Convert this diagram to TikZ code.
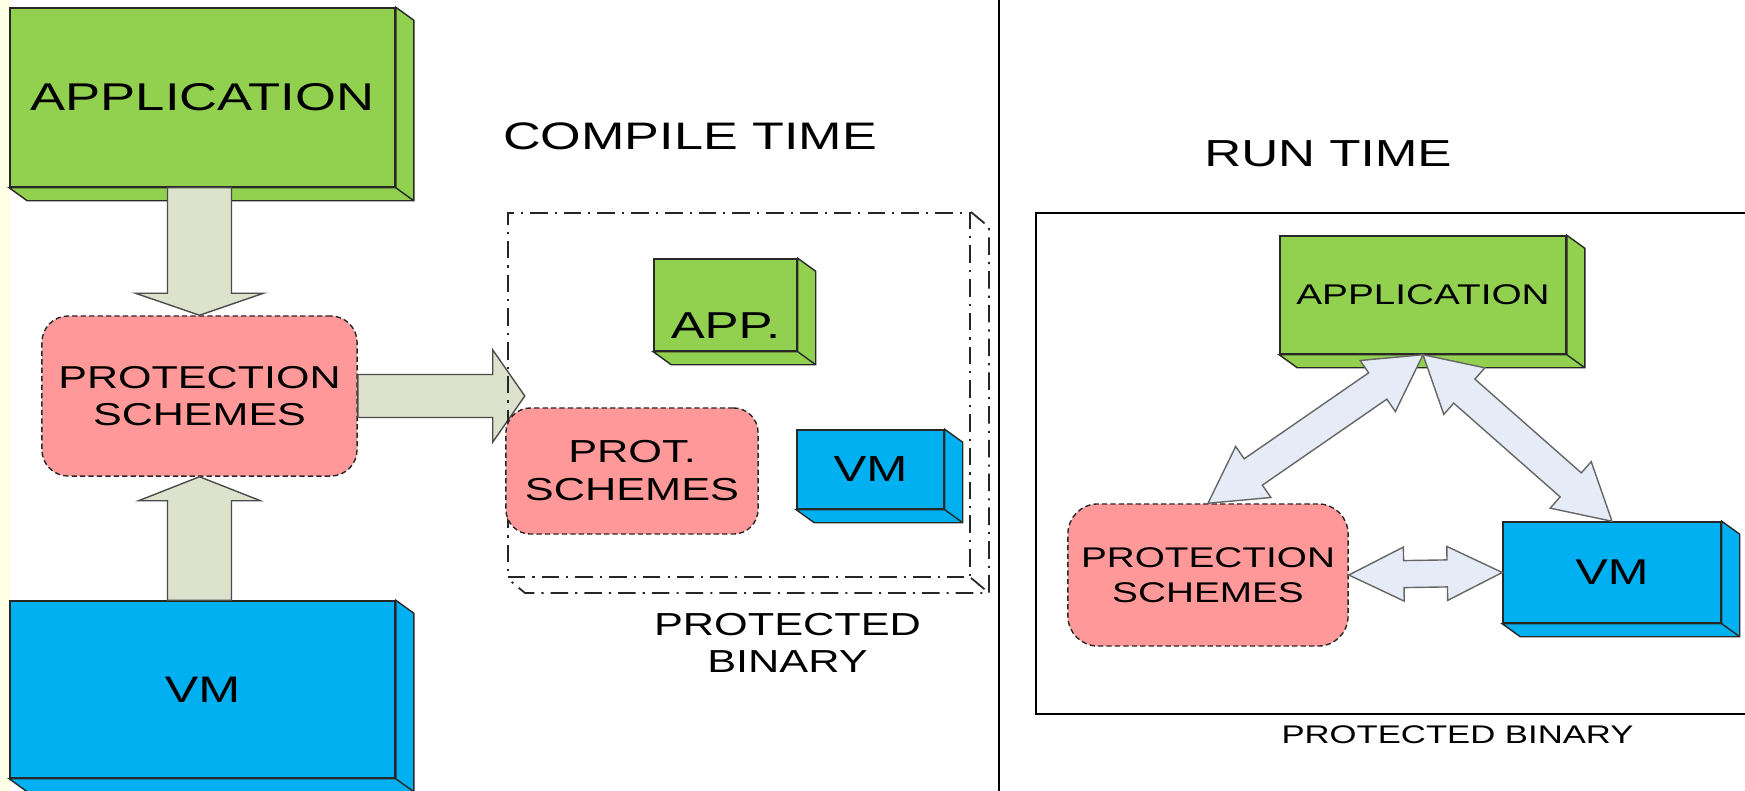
\documentclass[tikz,border=0pt]{standalone}
\usepackage{fontspec}
\setmainfont{Liberation Sans}[FakeStretch=1.36]
\usetikzlibrary{calc,positioning}

\definecolor{appgreen}{RGB}{146,208,80}
\definecolor{vmblue}{RGB}{0,176,240}
\definecolor{protpink}{RGB}{255,153,153}
\definecolor{feedfill}{RGB}{221,226,204}
\definecolor{linkfill}{RGB}{230,236,247}
\definecolor{edgegray}{RGB}{40,40,40}
\definecolor{stripyellow}{RGB}{255,255,230}

% block arrow: style, tail, tip, shaft half width, head half width, head length
\newcommand\singlearrow[6]{%
  \coordinate (ah) at ($(#3)!#6!(#2)$);
  \draw[#1] ($(#2)!#4!90:(#3)$) -- ($(ah)!#4!90:(#3)$) -- ($(ah)!#5!90:(#3)$) -- (#3)
    -- ($(ah)!#5!-90:(#3)$) -- ($(ah)!#4!-90:(#3)$) -- ($(#2)!#4!-90:(#3)$) -- cycle;
}
% same with a head at both ends
\newcommand\doublearrow[6]{%
  \coordinate (ha) at ($(#2)!#6!(#3)$);
  \coordinate (hb) at ($(#3)!#6!(#2)$);
  \draw[#1] (#2) -- ($(ha)!#5!90:(#3)$) -- ($(ha)!#4!90:(#3)$)
    -- ($(hb)!#4!-90:(#2)$) -- ($(hb)!#5!-90:(#2)$) -- (#3)
    -- ($(hb)!#5!90:(#2)$) -- ($(hb)!#4!90:(#2)$)
    -- ($(ha)!#4!-90:(#3)$) -- ($(ha)!#5!-90:(#3)$) -- cycle;
}

\begin{document}
\begin{tikzpicture}[x=0.01cm, y=-0.01cm,
    box/.style={draw=edgegray, line width=0.4pt, inner sep=0pt, align=center},
    cube/.style={box, fill=#1},
    scheme/.style={box, fill=protpink, rounded corners=#1, dash pattern=on 1.5pt off 0.9pt},
    slab/.style={draw=edgegray, line width=0.4pt, fill=#1},
    feed/.style={draw=black!70, line width=0.4pt, fill=feedfill},
    link/.style={draw=black!60, line width=0.4pt, fill=linkfill},
    bindash/.style={draw=black!85, line width=0.5pt, dash pattern=on 5pt off 2pt on 0.6pt off 2pt},
    caption/.style={inner sep=0pt, align=center}
  ]
  \useasboundingbox (0,0) rectangle (1745,791);
  \fill[white] (0,0) rectangle (1745,791);
  \fill[stripyellow] (0,0) rectangle (10,791);

  % divider and run time frame
  \coordinate (sepT) at (999,0);
  \coordinate (sepB) at (999,791);
  \draw[line width=0.5pt] (sepT) -- (sepB);
  \coordinate (frNE) at (1745,213);
  \coordinate (frSW) at (1036,714);
  \draw[line width=0.6pt] (frNE) -| (frSW) -- (frSW -| frNE);

  % compile time inputs
  \node[cube=appgreen, minimum width=3.85cm, minimum height=1.79cm, font=\fontsize{11}{13}\selectfont] (appL) at (202.5,97.5) {APPLICATION};
  \node[scheme=7.5pt, minimum width=3.15cm, minimum height=1.6cm, font=\fontsize{9}{10.5}\selectfont] (psL) at (199.5,396) {PROTECTION\\SCHEMES};
  \node[cube=vmblue, minimum width=3.85cm, minimum height=1.77cm, font=\fontsize{10.5}{12}\selectfont] (vmL) at (202.5,689.5) {VM};
  \foreach \b/\c in {appL/appgreen, vmL/vmblue}
    \draw[slab=\c] (\b.north east) -- ++(18,13) -- ($(\b.south east)+(18,13)$)
      -- ($(\b.south west)+(18,13)$) -- (\b.south west) -- (\b.south east) -- cycle
      (\b.south east) -- ++(18,13);

  \coordinate (appfoot) at (appL.south -| psL.north);
  \coordinate (vmhead) at (vmL.north -| psL.south);
  \coordinate (feedtip) at ($(psL.east)+(167,0)$);
  \singlearrow{feed}{appfoot}{psL.north}{3.2mm}{6.4mm}{2.2mm}
  \singlearrow{feed}{vmhead}{psL.south}{3.2mm}{6.1mm}{2.4mm}
  \singlearrow{feed}{psL.east}{feedtip}{2.15mm}{4.6mm}{3.2mm}

  % protected binary
  \node[bindash, minimum width=4.62cm, minimum height=3.64cm] (bin) at (739,395) {};
  \draw[bindash] (bin.north east) -- ++(18,15) -- ($(bin.south east)+(18,15)$)
    -- ($(bin.south west)+(18,15)$) -- (bin.south west)
    (bin.south east) -- ++(18,15);
  \node[cube=appgreen, minimum width=1.43cm, minimum height=0.92cm, text height=19pt, text depth=0pt, font=\fontsize{10.65}{12}\selectfont] (appS) at (725.5,305) {APP.};
  \node[scheme=7pt, minimum width=2.52cm, minimum height=1.26cm, font=\fontsize{9.05}{10.8}\selectfont] (psS) at (632,471) {PROT.\\SCHEMES};
  \node[cube=vmblue, minimum width=1.47cm, minimum height=0.79cm, font=\fontsize{10.3}{12}\selectfont] (vmS) at (870.5,469.5) {VM};
  \foreach \b/\c in {appS/appgreen, vmS/vmblue}
    \draw[slab=\c] (\b.north east) -- ++(18,13) -- ($(\b.south east)+(18,13)$)
      -- ($(\b.south west)+(18,13)$) -- (\b.south west) -- (\b.south east) -- cycle
      (\b.south east) -- ++(18,13);

  \node[caption, font=\fontsize{10.9}{13}\selectfont] (compile) at (690,136) {COMPILE TIME};
  \node[caption, font=\fontsize{9.05}{10.5}\selectfont] (binlabel) at (787.5,643) {PROTECTED\\BINARY};

  % run time
  \node[caption, font=\fontsize{10.7}{13}\selectfont] (run) at (1328,153.5) {RUN TIME};
  \node[cube=appgreen, minimum width=2.86cm, minimum height=1.18cm, font=\fontsize{8.1}{10}\selectfont] (appR) at (1423,295) {APPLICATION};
  \node[scheme=8.5pt, minimum width=2.8cm, minimum height=1.42cm, font=\fontsize{8.1}{9.9}\selectfont] (psR) at (1208,575) {PROTECTION\\SCHEMES};
  \node[cube=vmblue, minimum width=2.18cm, minimum height=1.01cm, font=\fontsize{10.2}{12}\selectfont] (vmR) at (1612,572.5) {VM};
  \foreach \b/\c in {appR/appgreen, vmR/vmblue}
    \draw[slab=\c] (\b.north east) -- ++(18,13) -- ($(\b.south east)+(18,13)$)
      -- ($(\b.south west)+(18,13)$) -- (\b.south west) -- (\b.south east) -- cycle
      (\b.south east) -- ++(18,13);

  \doublearrow{link}{appR.south}{psR.north}{1.6mm}{3.1mm}{5.5mm}
  \doublearrow{link}{appR.south}{vmR.north}{1.6mm}{3.1mm}{5.5mm}
  \doublearrow{link}{psR.east}{vmR.west}{1.35mm}{2.7mm}{5.5mm}

  \node[caption, font=\fontsize{7.25}{9}\selectfont] (runlabel) at (1457.5,735) {PROTECTED BINARY};
\end{tikzpicture}
\end{document}
